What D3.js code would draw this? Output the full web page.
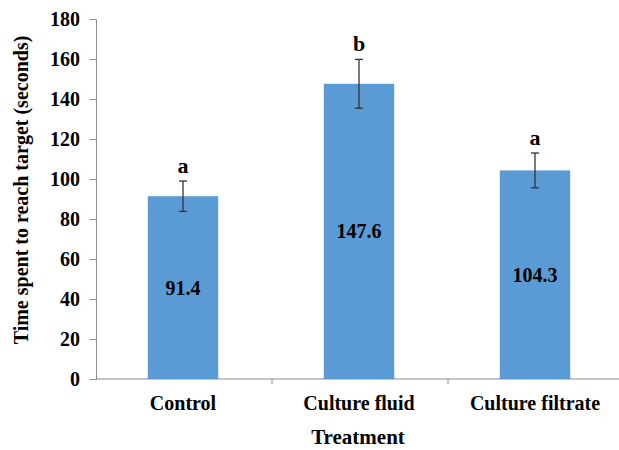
<!DOCTYPE html>
<html>
<head>
<meta charset="utf-8">
<script src="https://cdn.jsdelivr.net/npm/d3@7"></script>
</head>
<body style="margin:0;background:#fff">
<svg id="chart" width="619" height="450" style="font-family:'Liberation Serif',serif;font-weight:bold"></svg>
<script>
// Mean time per treatment, its standard error, and the significance letters
const categories = ["Control", "Culture fluid", "Culture filtrate"];
const means = [91.4, 147.6, 104.3];
const errors = [7.6, 12.2, 8.7];
const letters = ["a", "b", "a"];
const yTicks = [0, 20, 40, 60, 80, 100, 120, 140, 160, 180];

const FONT = "'Liberation Serif', serif";
const svg = d3.select("#chart");
const margin = { left: 96, right: -5, top: 19, bottom: 71 };
const width = 619 - margin.left - margin.right;
const height = 450 - margin.top - margin.bottom;
const g = svg.append("g").attr("transform", `translate(${margin.left},${margin.top})`);

const x = d3.scaleBand().domain(categories).range([0, width]).padding(0);
const y = d3.scaleLinear().domain([0, 180]).range([height, 0]);
const barW = x.bandwidth() * 0.4;
const axisColor = "#8c8c8c";

function label(sel, size) {
  return sel.attr("font-family", FONT).attr("font-weight", "bold")
    .style("font-family", FONT).style("font-weight", "bold")
    .style("font-size", size + "px").attr("fill", "#000");
}

// y axis
const yAxis = g.append("g").call(d3.axisLeft(y).tickValues(yTicks).tickSize(6).tickPadding(10));
yAxis.attr("font-family", null);
yAxis.selectAll("path, line").attr("stroke", axisColor);
label(yAxis.selectAll("text"), 20);

// x axis with dividers between categories
g.append("line").attr("x1", 0).attr("x2", width).attr("y1", height).attr("y2", height).attr("stroke", axisColor);
g.selectAll(".divider").data(categories.slice(1)).join("line")
  .attr("x1", d => x(d)).attr("x2", d => x(d))
  .attr("y1", height).attr("y2", height + 5)
  .attr("stroke", axisColor);
label(g.selectAll(".cat").data(categories).join("text")
  .attr("x", d => x(d) + x.bandwidth() / 2 - 1)
  .attr("y", height + 31)
  .attr("text-anchor", "middle")
  .text(d => d), 20);

// bars
const data = categories.map((c, i) => ({ c, m: means[i], e: errors[i], l: letters[i] }));
const cx = d => x(d.c) + x.bandwidth() / 2 - 1;
g.selectAll(".bar").data(data).join("rect")
  .attr("x", d => cx(d) - barW / 2)
  .attr("y", d => y(d.m))
  .attr("width", barW)
  .attr("height", d => height - y(d.m))
  .attr("fill", "#5b9bd5");

// error bars
const err = g.selectAll(".err").data(data).join("g").attr("stroke", "#333").attr("stroke-width", 1.3);
err.append("line").attr("x1", cx).attr("x2", cx).attr("y1", d => y(d.m + d.e)).attr("y2", d => y(d.m - d.e));
err.append("line").attr("x1", d => cx(d) - 4).attr("x2", d => cx(d) + 4).attr("y1", d => y(d.m + d.e)).attr("y2", d => y(d.m + d.e));
err.append("line").attr("x1", d => cx(d) - 4).attr("x2", d => cx(d) + 4).attr("y1", d => y(d.m - d.e)).attr("y2", d => y(d.m - d.e));

// significance letters
label(g.selectAll(".letter").data(data).join("text")
  .attr("x", cx)
  .attr("y", d => y(d.m + d.e) - 8)
  .attr("text-anchor", "middle")
  .text(d => d.l), 22);

// value labels centred in bars
label(g.selectAll(".val").data(data).join("text")
  .attr("x", cx)
  .attr("y", d => (y(d.m) + height) / 2 + 7)
  .attr("text-anchor", "middle")
  .text(d => d.m.toFixed(1)), 20);

// axis titles
label(svg.append("text")
  .attr("x", 358).attr("y", 444)
  .attr("text-anchor", "middle")
  .text("Treatment"), 21);
label(svg.append("text")
  .attr("transform", "translate(28,190) rotate(-90)")
  .attr("text-anchor", "middle")
  .text("Time spent to reach target (seconds)"), 20);
</script>
</body>
</html>
